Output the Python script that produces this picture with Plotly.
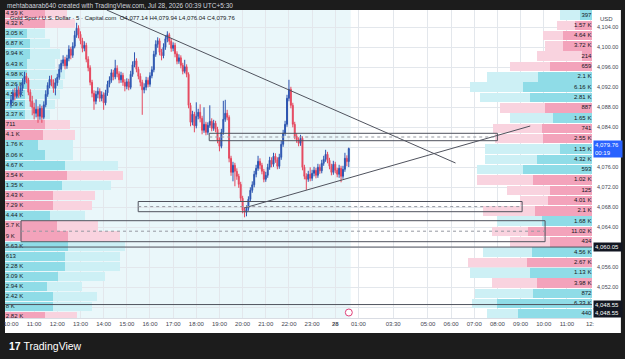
import plotly.graph_objects as go

# ---------------- candle data (5-minute bars, index 0 = 10:00) ----------------
closes = [
    4089.5, 4090.8, 4090.2, 4091.5, 4090.6, 4091.8, 4093.0, 4094.2, 4093.5, 4091.0,
    4089.2, 4088.0, 4086.8, 4087.6, 4086.2, 4087.8, 4086.0, 4088.5, 4090.6, 4092.4,
    4093.6, 4093.0, 4091.8, 4092.9, 4094.0, 4095.6, 4096.8, 4097.5, 4096.3, 4097.8,
    4099.6, 4098.4, 4100.2, 4102.4, 4103.8, 4102.6, 4101.3, 4099.8, 4100.4, 4097.6,
    4095.9, 4093.0, 4090.8, 4089.2, 4090.6, 4091.2, 4089.8, 4090.5, 4088.9, 4090.9,
    4092.6, 4093.4, 4094.9, 4094.1, 4095.8, 4094.7, 4093.5, 4094.4, 4093.0, 4092.2,
    4093.1, 4092.0, 4094.6, 4096.5, 4097.3, 4095.6, 4094.2, 4093.0, 4091.5, 4092.0,
    4093.4, 4092.6, 4094.3, 4095.5, 4098.6, 4100.6, 4101.3, 4099.0, 4098.3, 4100.0,
    4101.7, 4102.5, 4101.2, 4099.8, 4100.4, 4098.7, 4097.2, 4097.9, 4096.4, 4095.2,
    4096.1, 4094.6, 4088.4, 4085.0, 4086.6, 4084.3, 4086.2, 4087.0, 4085.8, 4083.4,
    4084.6, 4083.0, 4084.4, 4085.2, 4083.8, 4084.8, 4083.6, 4081.4, 4080.2, 4083.0,
    4085.6, 4086.8, 4086.0, 4077.8, 4075.0, 4076.4, 4075.2, 4074.2, 4072.6, 4069.8,
    4067.4, 4067.0, 4067.8, 4069.6, 4071.4, 4072.5, 4074.6, 4075.8, 4077.2, 4076.4,
    4075.2, 4073.6, 4074.4, 4076.0, 4077.4, 4076.6, 4078.2, 4077.5, 4076.2, 4078.0,
    4080.6, 4082.8, 4084.6, 4089.8, 4091.6, 4088.4, 4084.6, 4082.2, 4081.5, 4080.8,
    4081.8, 4076.0, 4074.2, 4073.6, 4074.6, 4073.8, 4074.8, 4075.4, 4074.4, 4076.0,
    4075.3, 4076.8, 4077.6, 4078.6, 4077.4, 4076.2, 4075.0, 4076.6, 4075.4, 4074.6,
    4075.8, 4074.2, 4075.6, 4077.8, 4077.14, 4079.76,
]
first_open = 4088.6
opens = [first_open] + closes[:-1]
highs = [
    4090.4, 4091.6, 4091.9, 4092.6, 4092.2, 4092.5, 4093.8, 4095.1, 4094.9, 4093.9,
    4091.6, 4090.3, 4088.9, 4089.6, 4088.2, 4088.6, 4088.3, 4089.2, 4091.4, 4093.0,
    4094.3, 4094.4, 4093.6, 4093.8, 4094.7, 4096.6, 4097.5, 4098.4, 4098.1, 4098.5,
    4100.4, 4100.1, 4101.0, 4103.3, 4104.9, 4104.4, 4103.2, 4101.9, 4101.2, 4100.9,
    4098.2, 4096.4, 4093.5, 4091.4, 4091.3, 4092.0, 4091.8, 4091.2, 4091.0, 4091.5,
    4093.3, 4094.2, 4095.6, 4095.5, 4097.5, 4096.4, 4095.2, 4095.1, 4094.9, 4093.6,
    4093.8, 4093.7, 4095.3, 4097.2, 4099.0, 4097.8, 4096.1, 4094.8, 4093.5, 4092.8,
    4094.1, 4094.0, 4095.0, 4096.2, 4099.3, 4101.4, 4102.0, 4101.8, 4099.7, 4100.8,
    4102.4, 4103.2, 4102.9, 4101.8, 4101.0, 4100.9, 4099.2, 4098.6, 4098.4, 4096.9,
    4097.5, 4096.6, 4095.0, 4088.9, 4087.3, 4087.1, 4089.0, 4087.7, 4088.6, 4086.3,
    4088.0, 4085.1, 4085.0, 4088.4, 4085.8, 4085.5, 4085.3, 4084.1, 4082.0, 4083.7,
    4089.3, 4089.5, 4087.5, 4086.4, 4078.3, 4077.1, 4076.9, 4075.8, 4074.7, 4073.1,
    4070.3, 4068.0, 4068.4, 4070.2, 4072.0, 4073.2, 4075.3, 4076.5, 4078.3, 4077.8,
    4076.9, 4075.7, 4075.1, 4076.7, 4078.1, 4078.0, 4078.9, 4078.8, 4078.0, 4078.7,
    4081.3, 4083.5, 4085.3, 4090.5, 4093.5, 4092.1, 4088.9, 4085.1, 4082.8, 4082.0,
    4082.5, 4082.2, 4076.5, 4074.8, 4075.3, 4076.0, 4075.5, 4076.1, 4075.9, 4076.7,
    4076.6, 4077.5, 4078.3, 4079.5, 4079.1, 4077.9, 4076.7, 4077.3, 4077.1, 4075.9,
    4076.5, 4076.3, 4076.3, 4078.9, 4078.4, 4079.94,
]
lows = [
    4087.9, 4089.0, 4089.4, 4089.8, 4089.9, 4090.0, 4091.2, 4092.6, 4092.8, 4090.4,
    4088.1, 4086.4, 4085.6, 4086.0, 4084.9, 4085.5, 4084.9, 4085.6, 4088.0, 4090.1,
    4091.8, 4092.2, 4090.9, 4090.4, 4092.3, 4093.5, 4095.0, 4096.2, 4095.6, 4095.7,
    4097.2, 4097.6, 4097.9, 4099.8, 4101.9, 4101.8, 4100.6, 4099.0, 4099.2, 4097.0,
    4095.2, 4092.4, 4090.0, 4087.5, 4088.6, 4089.8, 4089.1, 4089.2, 4087.5, 4088.4,
    4090.3, 4092.0, 4092.9, 4093.4, 4093.6, 4094.0, 4092.8, 4092.9, 4092.3, 4091.2,
    4091.6, 4091.4, 4091.6, 4094.1, 4096.0, 4095.0, 4093.6, 4092.2, 4086.5, 4090.8,
    4091.4, 4092.0, 4092.1, 4093.8, 4095.0, 4098.1, 4099.9, 4098.4, 4097.4, 4097.8,
    4099.5, 4101.0, 4100.5, 4099.1, 4099.2, 4098.0, 4096.6, 4096.7, 4095.8, 4094.6,
    4094.8, 4094.0, 4087.8, 4084.2, 4084.4, 4083.0, 4083.8, 4085.6, 4085.0, 4082.6,
    4082.9, 4082.4, 4082.5, 4083.9, 4083.2, 4083.3, 4083.0, 4080.8, 4079.2, 4079.8,
    4082.5, 4085.1, 4085.4, 4077.0, 4074.3, 4073.2, 4072.2, 4073.5, 4071.9, 4069.2,
    4066.8, 4066.0, 4066.2, 4067.3, 4069.1, 4070.9, 4072.0, 4074.0, 4075.3, 4075.6,
    4074.6, 4073.0, 4073.1, 4073.9, 4075.5, 4076.0, 4076.1, 4076.9, 4075.6, 4075.7,
    4077.5, 4080.1, 4082.3, 4084.1, 4089.2, 4087.8, 4084.0, 4081.6, 4080.9, 4080.2,
    4080.3, 4075.4, 4073.6, 4071.5, 4073.1, 4073.2, 4073.3, 4074.2, 4073.8, 4073.9,
    4074.7, 4074.8, 4076.3, 4077.1, 4076.8, 4075.6, 4074.4, 4074.5, 4074.8, 4074.0,
    4073.9, 4073.0, 4073.7, 4075.1, 4076.2, 4076.04,
]
assert len(closes) == len(highs) == len(lows) == 176
bar_index = list(range(len(closes)))

# ---------------- time axis labels ----------------
tick_index = [0, 12, 24, 36, 48, 60, 72, 84, 96, 108, 120, 132, 144, 156, 168,
              180, 198, 216, 228, 240, 252, 264, 276, 288, 300]
tick_text = ["10:00", "11:00", "12:00", "13:00", "14:00", "15:00", "16:00", "17:00",
             "18:00", "19:00", "20:00", "21:00", "22:00", "23:00", "<b>28</b>",
             "01:00", "03:30", "05:00", "06:00", "07:00", "08:00", "09:00",
             "10:00", "11:00", "12:"]
price_ticks = [4048, 4052, 4056, 4060, 4064, 4068, 4072, 4076, 4080, 4084,
               4088, 4092, 4096, 4100, 4104]
price_tick_text = ["", "4,052.00", "4,056.00", "", "4,064.00", "4,068.00", "4,072.00",
                   "4,076.00", "", "4,084.00", "4,088.00", "4,092.00", "4,096.00",
                   "4,100.00", "4,104.00"]

# ---------------- left volume profile (rows top -> bottom) ----------------
left_top_price = 4106.76
left_row_step = 2.023
left_labels = ["4.59 K", "4.32 K", "3.05 K", "6.87 K", "9.94 K", "6.43 K", "4.98 K",
               "8.26 K", "4.54 K", "7.09 K", "3.37 K", "711", "4.1 K", "1.76 K",
               "8.06 K", "4.67 K", "3.54 K", "1.35 K", "3.43 K", "7.29 K", "4.44 K",
               "5.7 K", "9 K", "5.63 K", "613", "2.28 K", "3.09 K", "2.94 K",
               "2.42 K", "8 K", "2.82 K"]
left_side = ["dn", "dn", "up", "up", "up", "up", "up", "up", "up", "up", "up",
             "dn", "dn", "up", "up", "up", "dn", "up", "dn", "dn", "up", "dn",
             "dn", "up", "up", "up", "up", "up", "up", "up", "dn"]
left_major = [40, 40, 22, 25, 25, 22, 22, 22, 20, 20, 20, 40, 38, 33, 40, 60,
              62, 57, 48, 48, 45, 52, 63, 63, 60, 60, 53, 42, 48, 48, 40]
left_total = [62, 70, 40, 45, 55, 50, 60, 58, 55, 50, 45, 65, 70, 68, 68, 113,
              118, 106, 90, 87, 80, 93, 115, 120, 115, 115, 100, 77, 92, 87, 72]

# ---------------- right volume profile (rows top -> bottom) ----------------
right_top_price = 4106.46
right_row_step = 2.062
right_labels = ["397", "1.57 K", "4.64 K", "3.72 K", "214", "659", "2.1 K", "6.16 K",
                "2.81 K", "887", "1.65 K", "741", "2.55 K", "1.15 K", "4.32 K", "593",
                "1.02 K", "125", "4.01 K", "2.1 K", "1.68 K", "11.02 K", "434",
                "4.56 K", "2.67 K", "1.13 K", "3.98 K", "872", "6.33 K", "440"]
right_side = ["up", "dn", "dn", "dn", "dn", "dn", "up", "up", "up", "dn", "up",
              "dn", "dn", "up", "up", "up", "dn", "dn", "dn", "dn", "up", "dn",
              "dn", "up", "dn", "up", "dn", "up", "up", "up"]
right_major = [12, 17, 29, 29, 10, 42, 54, 69, 62, 47, 39, 50, 49, 32, 55, 69,
               59, 42, 44, 57, 50, 64, 42, 60, 65, 62, 55, 59, 95, 74]
right_total = [32, 35, 49, 47, 55, 82, 105, 122, 112, 92, 82, 99, 97, 107, 107,
               115, 115, 85, 72, 109, 95, 100, 82, 109, 124, 122, 100, 117, 120, 105]

# ---------------- drawings (bar index, price) ----------------
trend_down_t = [49.6, 230.3]
trend_down_p = [4107.46, 4076.86]
trend_up_t = [120.8, 269.0]
trend_up_p = [4067.86, 4084.26]
zone_upper_t = [102.7, 252.0]
zone_upper_p = [4081.32, 4082.80]
zone_lower_t = [65.9, 264.8]
zone_lower_p = [4067.12, 4069.16]
zone_left_t = [5.2, 276.7]
zone_left_p = [4061.12, 4065.32]
hline_prices = [4060.05, 4048.55]
session_end_index = 176.0
last_price = 4079.76

# ---------------- styles ----------------
UP = "#2c55b0"
DN = "#e5485f"
dark_col = {"up": "#8fdce7", "dn": "#f3a3bb"}
light_col = {"up": "#cdf0f5", "dn": "#f9d3df"}
GRID = "#e3e7ec"
TXT = "#131722"
AX = "#434651"
X_RANGE = [-3.1, 301.0]
Y_RANGE = [4045.86, 4107.46]
PLOT_W = 589
PLOT_H = 308

fig = go.Figure()

left_y = [left_top_price - left_row_step * k for k in range(len(left_labels))]
right_y = [right_top_price - right_row_step * k for k in range(len(right_labels))]

fig.add_trace(go.Bar(orientation="h", y=left_y, x=left_major, width=1.85,
                     marker=dict(color=[dark_col[s] for s in left_side], line=dict(width=0)),
                     xaxis="x", yaxis="y", hoverinfo="skip"))
fig.add_trace(go.Bar(orientation="h", y=left_y,
                     x=[t - m for t, m in zip(left_total, left_major)], width=1.85,
                     marker=dict(color=[light_col[s] for s in left_side], line=dict(width=0)),
                     xaxis="x", yaxis="y", hoverinfo="skip"))
fig.add_trace(go.Scatter(mode="text", x=[0.8] * len(left_labels), y=left_y, text=left_labels,
                         textposition="middle right",
                         textfont=dict(size=6, color=TXT, family="Liberation Sans"),
                         xaxis="x", yaxis="y", hoverinfo="skip"))

fig.add_trace(go.Bar(orientation="h", y=right_y, x=right_major, width=1.9,
                     marker=dict(color=[dark_col[s] for s in right_side], line=dict(width=0)),
                     xaxis="x2", yaxis="y", hoverinfo="skip"))
fig.add_trace(go.Bar(orientation="h", y=right_y,
                     x=[t - m for t, m in zip(right_total, right_major)], width=1.9,
                     marker=dict(color=[light_col[s] for s in right_side], line=dict(width=0)),
                     xaxis="x2", yaxis="y", hoverinfo="skip"))
fig.add_trace(go.Scatter(mode="text", x=[0.6] * len(right_labels), y=right_y, text=right_labels,
                         textposition="middle left",
                         textfont=dict(size=6, color=TXT, family="Liberation Sans"),
                         xaxis="x2", yaxis="y", hoverinfo="skip"))

fig.add_trace(go.Candlestick(x=bar_index, open=opens, high=highs, low=lows, close=closes,
                             increasing=dict(line=dict(color=UP, width=1), fillcolor=UP),
                             decreasing=dict(line=dict(color=DN, width=1), fillcolor=DN),
                             whiskerwidth=0, xaxis="x3", yaxis="y", hoverinfo="skip"))

shapes = []
# white chart panel and session shading
shapes.append(dict(type="rect", xref="paper", yref="paper", x0=0, x1=(621 - 3) / PLOT_W,
                   y0=-15 / PLOT_H, y1=1, fillcolor="#ffffff", line=dict(width=0), layer="below"))
shapes.append(dict(type="rect", xref="x3", yref="paper", x0=X_RANGE[0], x1=session_end_index,
                   y0=0, y1=1, fillcolor="#eaf7fa", line=dict(width=0), layer="below"))
LINE = dict(color="#50535e", width=1)
shapes.append(dict(type="line", xref="x3", yref="y", x0=trend_down_t[0], x1=trend_down_t[1],
                   y0=trend_down_p[0], y1=trend_down_p[1], line=LINE))
shapes.append(dict(type="line", xref="x3", yref="y", x0=trend_up_t[0], x1=trend_up_t[1],
                   y0=trend_up_p[0], y1=trend_up_p[1], line=LINE))
for zt, zp in [(zone_upper_t, zone_upper_p), (zone_lower_t, zone_lower_p), (zone_left_t, zone_left_p)]:
    shapes.append(dict(type="rect", xref="x3", yref="y", x0=zt[0], x1=zt[1], y0=zp[0], y1=zp[1],
                       line=dict(color="#50535e", width=1), fillcolor="rgba(0,0,0,0)"))
    shapes.append(dict(type="line", xref="x3", yref="y", x0=zt[0], x1=zt[1],
                       y0=(zp[0] + zp[1]) / 2, y1=(zp[0] + zp[1]) / 2,
                       line=dict(color="#9598a1", width=1, dash="dot")))
for hp in hline_prices:
    shapes.append(dict(type="line", xref="paper", yref="y", x0=0, x1=1, y0=hp, y1=hp,
                       line=dict(color="#50535e", width=1)))
# event marker circle
shapes.append(dict(type="circle", xref="paper", yref="paper",
                   x0=(344.5 - 3) / PLOT_W, x1=(351.5 - 3) / PLOT_W,
                   y0=(318 - 316) / PLOT_H, y1=(318 - 309) / PLOT_H,
                   line=dict(color="#e0407a", width=1), fillcolor="#ffffff"))

ann = []
def px_x(px):
    return (px - 3) / PLOT_W
def px_y(py):
    return (318 - py) / PLOT_H

ann.append(dict(xref="paper", yref="paper", x=px_x(3), y=px_y(5.5), xanchor="left", yanchor="middle",
                text="mehtabaarab640 created with TradingView.com, Jul 28, 2026 00:39 UTC+5:30",
                showarrow=False, font=dict(size=6.5, color="#d1d4dc")))
ann.append(dict(xref="paper", yref="paper", x=px_x(6), y=px_y(17.5), xanchor="left", yanchor="middle",
                text="Gold Spot / U.S. Dollar · 5 · Capital.com  O4,077.14 H4,079.94 L4,076.04 C4,079.76",
                showarrow=False, font=dict(size=6, color=TXT)))
ann.append(dict(xref="paper", yref="paper", x=px_x(598), y=px_y(19), xanchor="left", yanchor="middle",
                text="USD", showarrow=False, font=dict(size=6, color=AX)))
ann.append(dict(xref="paper", yref="y", x=px_x(593), y=last_price, xanchor="left", yanchor="middle",
                text="4,079.76<br>00:19", showarrow=False, align="left", bgcolor="#2962ff",
                borderpad=1, width=26, font=dict(size=6, color="#ffffff")))
ann.append(dict(xref="paper", yref="y", x=px_x(593), y=hline_prices[0], xanchor="left", yanchor="middle",
                text="4,060.05", showarrow=False, align="left", bgcolor="#131722",
                borderpad=1, width=26, font=dict(size=6, color="#ffffff")))
for shift in [0, -8]:
    ann.append(dict(xref="paper", yref="y", x=px_x(593), y=hline_prices[1], yshift=shift,
                    xanchor="left", yanchor="middle", text="4,048.55", showarrow=False,
                    align="left", bgcolor="#131722", borderpad=1, width=26,
                    font=dict(size=6, color="#ffffff")))
ann.append(dict(xref="paper", yref="paper", x=px_x(5), y=px_y(346), xanchor="left", yanchor="middle",
                text="<b>17</b> TradingView", showarrow=False,
                font=dict(size=10.5, color="#ffffff", family="Liberation Sans")))

fig.update_layout(
    width=625, height=359,
    margin=dict(l=3, r=33, t=10, b=41, pad=0),
    paper_bgcolor="#1c1c1c", plot_bgcolor="#ffffff",
    showlegend=False, barmode="stack", bargap=0,
    font=dict(family="Liberation Sans", size=6, color=TXT),
    xaxis=dict(range=[0, PLOT_W], visible=False, fixedrange=True,
               rangeslider=dict(visible=False)),
    xaxis2=dict(range=[PLOT_W, 0], overlaying="x", anchor="y", visible=False),
    xaxis3=dict(range=X_RANGE, overlaying="x", anchor="y", side="bottom",
                tickmode="array", tickvals=tick_index, ticktext=tick_text,
                showgrid=True, gridcolor=GRID, gridwidth=1, zeroline=False,
                ticks="", tickfont=dict(size=6, color=AX),
                showline=True, linecolor="#d9dce3", linewidth=1,
                rangeslider=dict(visible=False)),
    yaxis=dict(range=Y_RANGE, side="right", tickmode="array", tickvals=price_ticks,
               ticktext=price_tick_text, showgrid=True, gridcolor=GRID, gridwidth=1,
               zeroline=False, ticks="", tickfont=dict(size=5.5, color=AX),
               ticklabelstandoff=4, showline=False),
    shapes=shapes, annotations=ann,
)

fig.write_html("out.html")
